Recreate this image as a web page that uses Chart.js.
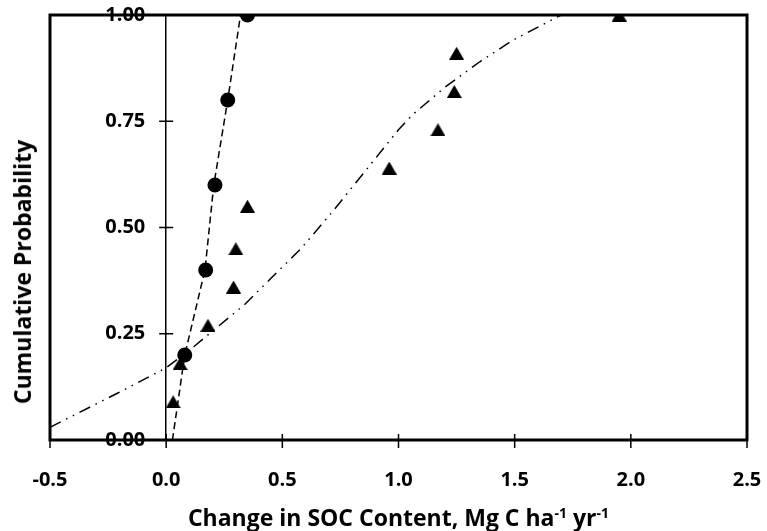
<!DOCTYPE html>
<html>
<head>
<meta charset="utf-8">
<script src="https://cdn.jsdelivr.net/npm/chart.js@4.4.1/dist/chart.umd.min.js"></script>
<style>
    body { margin: 0; background: #fff; }
    #wrap { position: relative; width: 767px; height: 531px; font-family: "Open Sans", sans-serif; font-weight: bold; color: #000; }
    #xTitle { position: absolute; left: 50px; width: 697px; top: 504px; text-align: center; font-size: 23px; line-height: 26px; white-space: nowrap; }
    #xTitle sup { font-size: 14px; line-height: 0; vertical-align: 8px; }
    #yTitle { position: absolute; left: 22px; top: 272px; font-size: 23px; line-height: 26px; white-space: nowrap; transform: translate(-50%, -50%) rotate(-90deg); }
</style>
</head>
<body>
<div id="wrap">
    <canvas id="chart" width="767" height="531"></canvas>
    <div id="xTitle">Change in SOC Content, Mg C ha<sup>-1</sup> yr<sup>-1</sup></div>
    <div id="yTitle">Cumulative Probability</div>
</div>
<script>
// Observed values (circles) and their dashed fit
const circleX = [0.08, 0.17, 0.21, 0.265, 0.35];
const circleY = [0.20, 0.40, 0.60, 0.80, 1.00];
const circleFitX = [0.027, 0.08, 0.167, 0.205, 0.265, 0.32];
const circleFitY = [0.00, 0.20, 0.40, 0.60, 0.80, 1.00];

// Observed values (triangles) and their dash-dot fit
const triX = [0.03, 0.06, 0.18, 0.29, 0.30, 0.35, 0.96, 1.17, 1.24, 1.25, 1.95];
const triY = [0.09, 0.18, 0.27, 0.36, 0.45, 0.55, 0.64, 0.73, 0.82, 0.91, 1.00];
const triFitX = [-0.5, -0.21, 0.0, 0.12, 0.23, 0.34, 0.45, 0.58, 0.72, 0.86, 1.0, 1.06, 1.2, 1.35, 1.49, 1.7];
const triFitY = [0.03, 0.11, 0.17, 0.22, 0.27, 0.32, 0.38, 0.45, 0.54, 0.635, 0.73, 0.765, 0.83, 0.89, 0.94, 1.00];

// Axis ticks
const xTicks = [-0.5, 0.0, 0.5, 1.0, 1.5, 2.0, 2.5];
const yTicks = [0.00, 0.25, 0.50, 0.75, 1.00];

const toPoints = (xs, ys) => xs.map((x, i) => ({ x: x, y: ys[i] }));

// Triangle marker centred on its bounding box, like the spreadsheet marker
function makeTriangle(w, h) {
    const c = document.createElement('canvas');
    c.width = w;
    c.height = h;
    const ctx = c.getContext('2d');
    ctx.fillStyle = '#000';
    ctx.beginPath();
    ctx.moveTo(w / 2, 0);
    ctx.lineTo(w, h);
    ctx.lineTo(0, h);
    ctx.closePath();
    ctx.fill();
    return c;
}

// Frame around the plot area and tick marks crossing the axes
const framePlugin = {
    id: 'frame',
    beforeDatasetsDraw(chart) {
        const { ctx, chartArea: a, scales } = chart;
        ctx.save();
        ctx.strokeStyle = '#000';
        ctx.lineWidth = 1.5;
        ctx.beginPath();
        const x0 = scales.x.getPixelForValue(0);
        yTicks.forEach(v => {
            const py = scales.y.getPixelForValue(v);
            ctx.moveTo(x0 - 7, py);
            ctx.lineTo(x0 + 7, py);
        });
        xTicks.forEach(v => {
            const px = scales.x.getPixelForValue(v);
            ctx.moveTo(px, a.bottom - 6);
            ctx.lineTo(px, a.bottom + 8);
        });
        ctx.stroke();
        ctx.lineWidth = 3;
        ctx.strokeRect(a.left, a.top, a.right - a.left, a.bottom - a.top);
        ctx.restore();
    }
};

const tickFont = { family: 'Open Sans', size: 20, weight: 'bold' };

new Chart(document.getElementById('chart'), {
    type: 'scatter',
    data: {
        datasets: [
            {
                data: toPoints(circleX, circleY),
                pointStyle: 'circle',
                pointRadius: 7.5,
                pointBackgroundColor: '#000',
                pointBorderWidth: 0,
                showLine: false
            },
            {
                data: toPoints(triX, triY),
                pointStyle: makeTriangle(15, 13),
                pointRadius: 7,
                showLine: false
            },
            {
                data: toPoints(circleFitX, circleFitY),
                showLine: true,
                pointRadius: 0,
                borderColor: '#000',
                borderWidth: 1.5,
                borderDash: [7, 4]
            },
            {
                data: toPoints(triFitX, triFitY),
                showLine: true,
                pointRadius: 0,
                borderColor: '#000',
                borderWidth: 1.5,
                borderDash: [12, 6, 1.5, 6, 1.5, 6]
            }
        ]
    },
    options: {
        responsive: false,
        animation: false,
        devicePixelRatio: 1,
        layout: { padding: { left: 50, right: 20, top: 15, bottom: 39 } },
        plugins: {
            legend: { display: false },
            tooltip: { enabled: false }
        },
        scales: {
            x: {
                type: 'linear',
                position: 'bottom',
                min: -0.5,
                max: 2.5,
                afterBuildTicks: scale => { scale.ticks = xTicks.map(v => ({ value: v })); },
                ticks: {
                    autoSkip: false,
                    maxRotation: 0,
                    padding: 0,
                    color: '#000',
                    font: tickFont,
                    callback: v => v.toFixed(1)
                },
                // invisible tick marks only push the labels down
                grid: { display: true, drawOnChartArea: false, drawTicks: true, tickLength: 28, color: 'rgba(0,0,0,0)' },
                border: { display: false }
            },
            // vertical axis line crossing at x = 0
            y: {
                type: 'linear',
                position: { x: 0 },
                min: 0,
                max: 1,
                ticks: { display: false },
                grid: { display: false, drawTicks: false },
                border: { display: true, color: '#000', width: 1.5 }
            },
            // its labels, set a little to the left of the line
            yLabels: {
                type: 'linear',
                axis: 'y',
                position: { x: -0.09 },
                min: 0,
                max: 1,
                afterBuildTicks: scale => { scale.ticks = yTicks.map(v => ({ value: v })); },
                ticks: {
                    padding: 0,
                    color: '#000',
                    font: tickFont,
                    callback: v => v.toFixed(2)
                },
                grid: { display: false, drawTicks: false },
                border: { display: false }
            }
        }
    },
    plugins: [framePlugin]
});
</script>
</body>
</html>
